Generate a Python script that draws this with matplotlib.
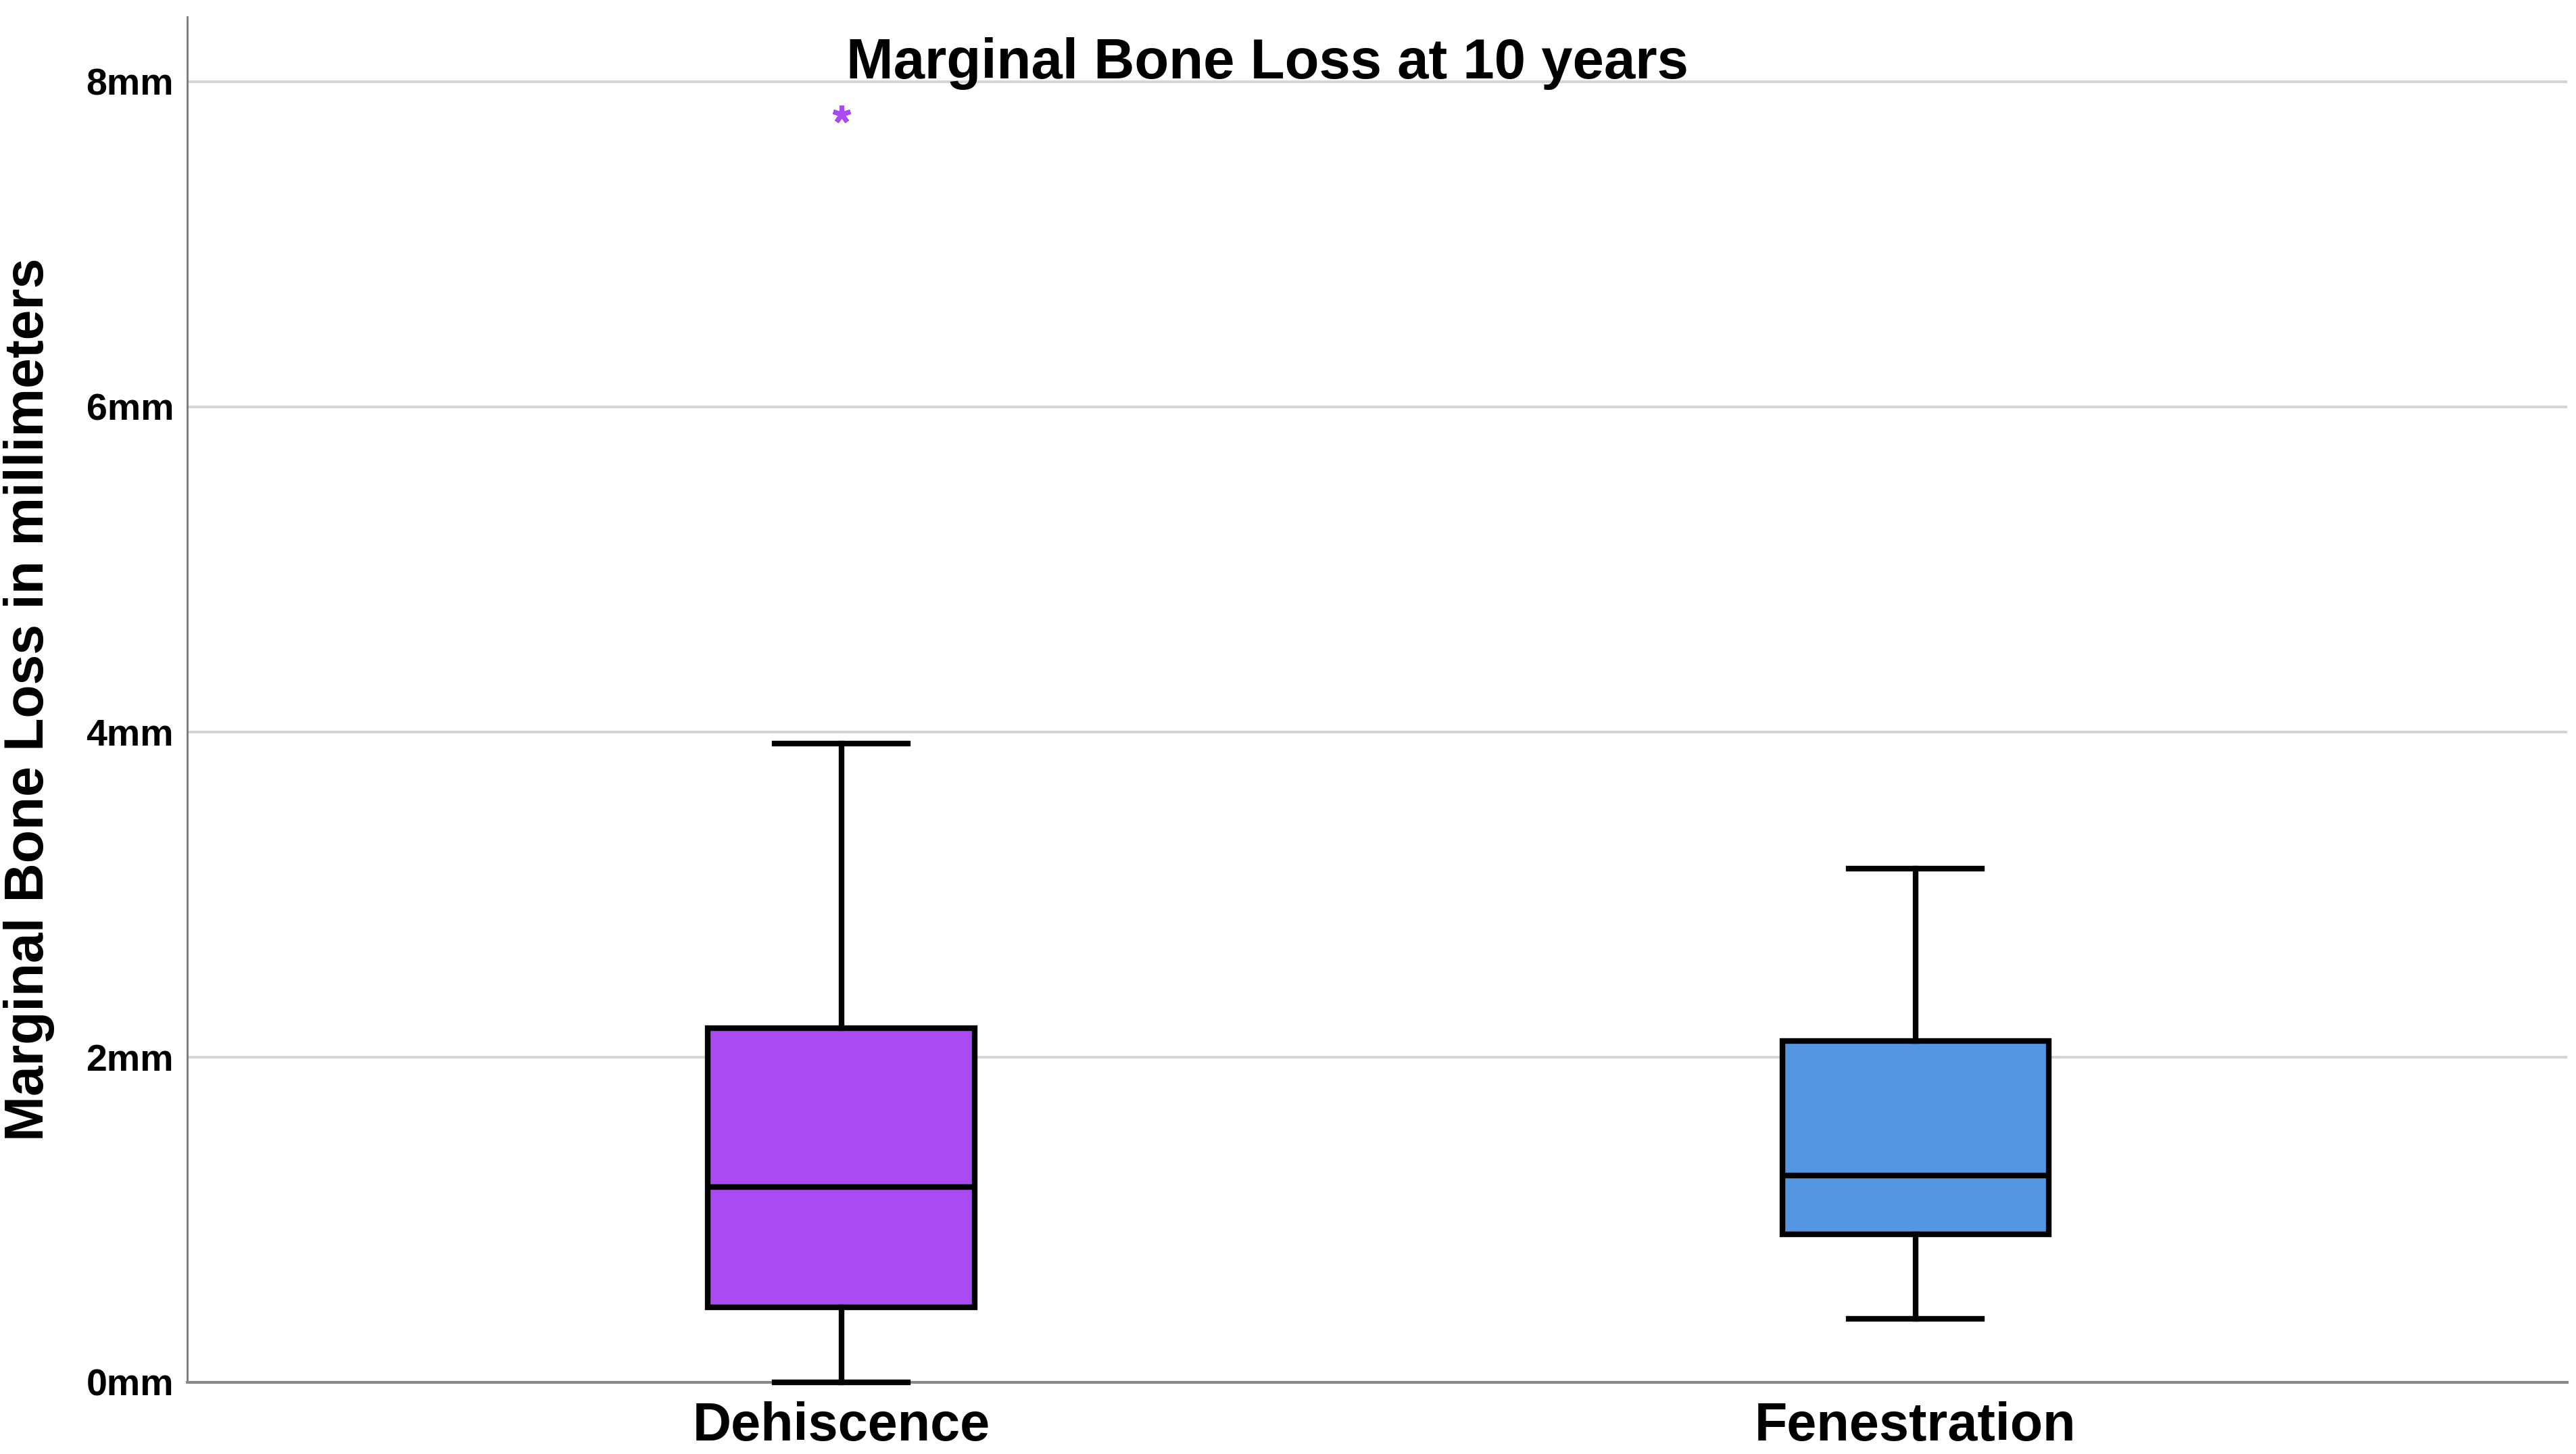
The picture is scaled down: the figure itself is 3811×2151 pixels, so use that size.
import numpy as np
import matplotlib
matplotlib.use("Agg")
from matplotlib import pyplot as plt

# box plot summary (mm)
groups = ["Dehiscence", "Fenestration"]
q1 = [0.46, 0.91]
med = [1.20, 1.27]
q3 = [2.18, 2.10]
whislo = [0.0, 0.39]
whishi = [3.93, 3.16]
outliers = [[7.80], []]
colors = ["#AA4AF2", "#5596E3"]
yticks = [0, 2, 4, 6, 8]

plt.rcParams['font.family'] = ['Liberation Sans', 'DejaVu Sans']

fig = plt.figure(figsize=(38.11, 21.51), dpi=100)
ax = fig.add_axes([0.0726, 0.0493, 0.9241, 0.9393])

stats = []
for i in range(len(groups)):
    stats.append({"label": groups[i], "q1": q1[i], "med": med[i], "q3": q3[i],
                  "whislo": whislo[i], "whishi": whishi[i], "fliers": outliers[i]})

lw = 6
bp = ax.bxp(stats, positions=[0, 1], widths=0.248, patch_artist=True,
            showfliers=True, capwidths=0.124,
            boxprops=dict(linewidth=lw, edgecolor='black'),
            medianprops=dict(linewidth=lw, color='black'),
            whiskerprops=dict(linewidth=lw, color='black'),
            capprops=dict(linewidth=lw, color='black'),
            flierprops=dict(marker=(5, 2, 0), markersize=19, markeredgewidth=5))
for patch, c in zip(bp['boxes'], colors):
    patch.set_facecolor(c)
for fl, c in zip(bp['fliers'], colors):
    fl.set_markerfacecolor(c)
    fl.set_markeredgecolor(c)
# cap at 0 sits on the axis line, keep it whole
for ln in bp['caps'] + bp['whiskers']:
    ln.set_clip_on(False)
    ln.set_zorder(5)

ax.set_xlim(-0.609, 1.607)
ax.set_ylim(0, 8.4)
ax.set_yticks(yticks)
ax.set_yticklabels(["{}mm".format(t) for t in yticks], fontsize=40, fontweight='bold')
ax.set_xticks([0, 1])
ax.set_xticklabels(groups, fontsize=57, fontweight='bold')
ax.tick_params(axis='y', length=0, pad=14)
ax.tick_params(axis='x', length=0, pad=20)

for t in yticks[1:]:
    ax.axhline(t, color='#d4d4d4', linewidth=2.8, zorder=0)

for s in ['top', 'right']:
    ax.spines[s].set_visible(False)
ax.spines['left'].set_color('#777777')
ax.spines['left'].set_linewidth(2)
ax.spines['bottom'].set_color('#888888')
ax.spines['bottom'].set_linewidth(3)

ax.set_ylabel("Marginal Bone Loss in millimeters", fontsize=58, fontweight='bold')
ax.yaxis.set_label_coords(-0.0555, 0.50)

fig.text(0.492, 0.946, "Marginal Bone Loss at 10 years", fontsize=60, fontweight='bold',
         ha='center', va='baseline')

fig.savefig("out.png", dpi=100)
